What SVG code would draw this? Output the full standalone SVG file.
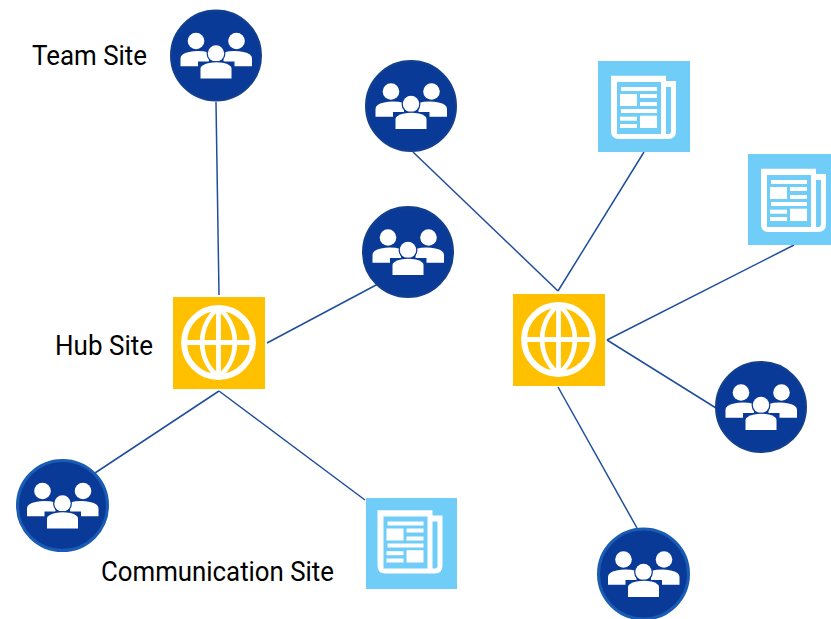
<svg xmlns="http://www.w3.org/2000/svg" width="831" height="619" viewBox="0 0 831 619">
<style>
.lbl{font-family:Roboto,"Liberation Sans",sans-serif;font-size:28.5px;fill:#000}
.con line{stroke:#1f4e9c;stroke-width:1.5}
.w{fill:#fff}
.c1{fill:#0a3a97;stroke:#12408f;stroke-width:2}
.c2{fill:#0a3a97;stroke:#1a5cb4;stroke-width:3}
.bg{fill:#70cdf8}
</style>
<defs>
<g id="people">
<g class="w">
<circle cx="-20" cy="-14.500" r="8.300"/>
<circle cx="20.500" cy="-14.500" r="8.300"/>
<path d="M-35.500 10.700V3Q-35.500 -2 -27 -3.500Q-17 -5.500 -7 -3V6H-18V10.700Z"/>
<path d="M36 10.700V3Q36 -2 27.500 -3.500Q17.500 -5.500 7.500 -3V6H18.500V10.700Z"/>
<g stroke="#0a3a97" stroke-width="2.500" paint-order="stroke">
<circle cx="0" cy="-2" r="8.200"/>
<path d="M-15.500 23V13Q-15.500 9.500 -7 7.500Q0 6.200 8 7.500Q15.500 9.500 15.500 13V23Z"/>
</g>
</g>
</g>
<g id="news">
<path class="w" fill-rule="evenodd" d="M13 14.700H68V20H78V70Q78 78 70 78H21Q13 78 13 70ZM19 21V73H63V21ZM68 26V73H70.500Q73 73 73 70V26Z"/>
<g class="w">
<rect x="23" y="26" width="36" height="4"/>
<rect x="22" y="33" width="17" height="12"/>
<rect x="42" y="33" width="17" height="4"/>
<rect x="42" y="41" width="17" height="4"/>
<rect x="23" y="48" width="36" height="4"/>
<rect x="22" y="55.700" width="17" height="4"/>
<rect x="22" y="63" width="17" height="4"/>
<rect x="42" y="54.700" width="17" height="12.300"/>
</g>
</g>
<g id="hub">
<rect width="92" height="92" fill="#ffc000"/>
<g transform="translate(45.500,45.500)" fill="none" stroke="#fff">
<circle r="34.400" stroke-width="6"/>
<path stroke-width="4.800" d="M0 -34.500A44.500 44.500 0 0 0 0 34.500A44.500 44.500 0 0 0 0 -34.500M0 -34.500V34.500M-34.500 0H34.500"/>
</g>
</g>
</defs>
<g id="connectors" class="con">
<line x1="216" y1="102" x2="219" y2="295"/>
<line x1="267" y1="343" x2="378" y2="284"/>
<line x1="219" y1="391" x2="95" y2="473"/>
<line x1="219" y1="391" x2="365" y2="500"/>
<line x1="413" y1="152" x2="558" y2="291"/>
<line x1="644" y1="152" x2="558" y2="291"/>
<line x1="794" y1="245" x2="607" y2="340"/>
<line x1="607" y1="340" x2="716" y2="408"/>
<line x1="558" y1="387" x2="637" y2="528"/>
</g>
<g id="team-site"><circle class="c1" cx="216" cy="55.500" r="45"/><use href="#people" x="216" y="55.500"/></g>
<g id="site-2"><circle class="c1" cx="411" cy="106" r="45"/><use href="#people" x="411" y="106"/></g>
<g id="site-3"><circle class="c1" cx="408" cy="252" r="45"/><use href="#people" x="408" y="252"/></g>
<g id="site-4"><circle class="c2" cx="62.500" cy="505.500" r="45"/><use href="#people" x="62.500" y="505.500"/></g>
<g id="site-5"><circle class="c1" cx="761" cy="407" r="45"/><use href="#people" x="761" y="407"/></g>
<g id="site-6"><circle class="c2" cx="643.500" cy="574" r="45"/><use href="#people" x="643.500" y="574"/></g>
<g id="news-1"><rect class="bg" x="598" y="61" width="92" height="91"/><use href="#news" x="598" y="61"/></g>
<g id="news-2"><rect class="bg" x="748" y="154" width="83" height="91"/><use href="#news" x="748" y="154"/></g>
<g id="news-3"><rect class="bg" x="366" y="498" width="91" height="91"/><use href="#news" x="364.500" y="495.500"/></g>
<g id="hub-1"><use href="#hub" x="173" y="297"/></g>
<g id="hub-2"><use href="#hub" x="513" y="294"/></g>
<text class="lbl" x="32" y="65" textLength="115" lengthAdjust="spacingAndGlyphs">Team Site</text>
<text class="lbl" x="55" y="355" textLength="98" lengthAdjust="spacingAndGlyphs">Hub Site</text>
<text class="lbl" x="101" y="580.500" textLength="233" lengthAdjust="spacingAndGlyphs">Communication Site</text>
</svg>
